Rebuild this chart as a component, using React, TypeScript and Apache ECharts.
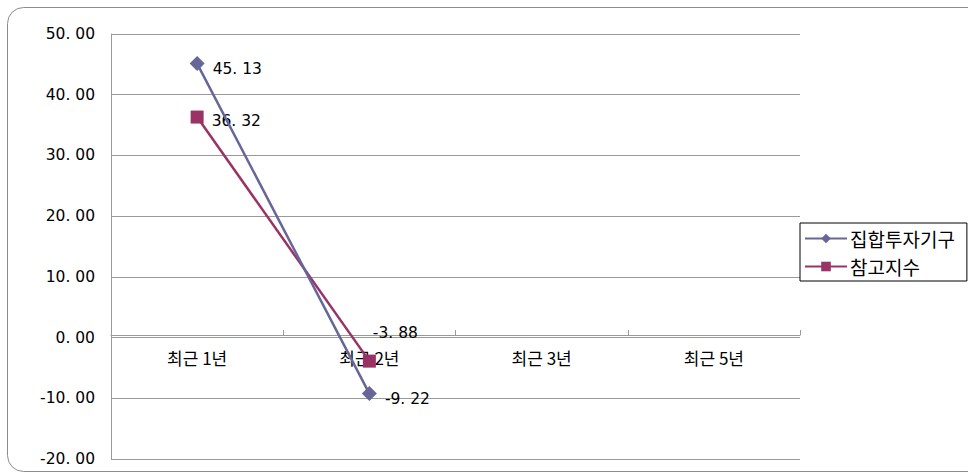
import React, { useEffect, useRef } from "react";
import * as echarts from "echarts";

const categories = ["최근 1년", "최근 2년", "최근 3년", "최근 5년"];
const fundValues: (number | null)[] = [45.13, -9.22, null, null];
const indexValues: (number | null)[] = [36.32, -3.88, null, null];
const seriesNames = ["집합투자기구", "참고지수"];

const FONT = "'DejaVu Sans', 'Noto Sans CJK KR', sans-serif";
const KFONT = "'Noto Sans CJK KR', 'Noto Sans', sans-serif";
const fmt = (v: number) => v.toFixed(2).replace(".", ". ");

export default function App() {
  const ref = useRef<HTMLDivElement>(null);
  useEffect(() => {
    document.body.style.margin = "0";
    const chart = echarts.init(ref.current!, null, { renderer: "svg" });
    chart.setOption({
      animation: false,
      backgroundColor: "#fff",
      textStyle: { fontFamily: FONT },
      graphic: [
        {
          type: "rect",
          shape: { x: 7.5, y: 7.5, width: 1000, height: 464, r: 16 },
          style: { fill: "none", stroke: "#8c8c8c", lineWidth: 1 },
          silent: true,
        },
      ],
      grid: { left: 111, right: 168, top: 34, bottom: 15, outerBoundsMode: "none", containLabel: false },
      legend: {
        orient: "vertical",
        left: 800,
        top: 223,
        padding: [6, 12, 5, 4],
        itemGap: 9,
        itemWidth: 42,
        itemHeight: 12,
        borderColor: "#000",
        borderWidth: 1,
        textStyle: { fontSize: 19, color: "#000", fontFamily: KFONT, padding: [0, 0, 0, -2] },
        data: seriesNames,
      },
      xAxis: {
        type: "category",
        data: categories,
        boundaryGap: true,
        position: "bottom",
        offset: -124,
        axisLine: { onZero: false, lineStyle: { color: "#999", width: 1 } },
        axisTick: { show: true, inside: true, length: 5, lineStyle: { color: "#999" } },
        axisLabel: { fontSize: 17, color: "#000", margin: 14, fontFamily: KFONT },
        splitLine: { show: false },
      },
      yAxis: {
        type: "value",
        min: -20,
        max: 50,
        interval: 10,
        axisLine: { show: true, lineStyle: { color: "#999" } },
        axisTick: { show: true, inside: true, length: 5, lineStyle: { color: "#999" } },
        axisLabel: {
          fontSize: 15.5,
          color: "#000",
          margin: 16,
          padding: [10, 0, 0, 0],
          fontFamily: FONT,
          formatter: (v: number) => fmt(v),
        },
        splitLine: { show: true, lineStyle: { color: "#999", width: 1 } },
      },
      series: [
        {
          name: seriesNames[0],
          type: "line",
          data: fundValues.map((v) => ({
            value: v,
            label: { position: "right", offset: [0, 5] },
          })),
          symbol: "diamond",
          symbolSize: 15,
          itemStyle: { color: "#666699" },
          lineStyle: { color: "#666699", width: 2.5 },
          label: {
            show: true,
            fontSize: 15.5,
            color: "#000",
            distance: 8,
            fontFamily: FONT,
            formatter: (p: any) => (p.value == null ? "" : fmt(p.value)),
          },
          connectNulls: false,
          z: 3,
        },
        {
          name: seriesNames[1],
          type: "line",
          data: indexValues.map((v, i) => ({
            value: v,
            label:
              i === 1
                ? { position: "top", offset: [26, -2], distance: 12 }
                : { position: "right", offset: [0, 4] },
          })),
          symbol: "rect",
          symbolSize: 13,
          itemStyle: { color: "#993366" },
          lineStyle: { color: "#993366", width: 2.5 },
          label: {
            show: true,
            fontSize: 15.5,
            color: "#000",
            distance: 8,
            fontFamily: FONT,
            formatter: (p: any) => (p.value == null ? "" : fmt(p.value)),
          },
          connectNulls: false,
          z: 2,
        },
      ],
    });
    return () => chart.dispose();
  }, []);
  return <div ref={ref} style={{ width: 968, height: 474 }} />;
}
